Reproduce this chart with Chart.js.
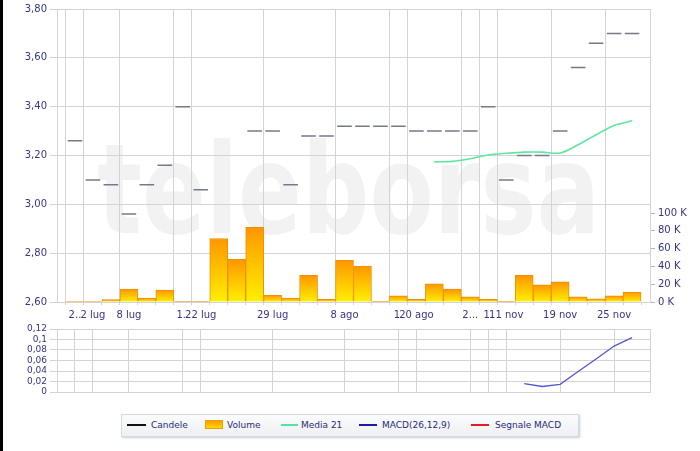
<!DOCTYPE html>
<html>
<head>
<meta charset="utf-8">
<script src="https://cdn.jsdelivr.net/npm/chart.js@4.4.1/dist/chart.umd.min.js"></script>
<style>
  body { margin: 0; background: #fff; width: 700px; height: 451px; position: relative; overflow: hidden; font-family: "DejaVu Sans", Verdana, sans-serif; }
  #edge { position: absolute; left: 0; top: 0; width: 3px; height: 451px; background: #000; }
  #main { position: absolute; left: 0; top: 0; }
  #macd { position: absolute; left: 0; top: 320px; }
  #legend { position: absolute; left: 121px; top: 414px; width: 456px; height: 21px; border: 1px solid #d6d9de;
            background: linear-gradient(#fafbfc, #eef0f3); box-shadow: 1px 1px 2px #c8ccd2; font-size: 9px; color: #2a2a7a; }
  #legend span { position: absolute; top: 5px; white-space: nowrap; }
  #legend i { position: absolute; display: block; }
</style>
</head>
<body>
<div id="edge"></div>
<canvas id="main" width="700" height="325"></canvas>
<canvas id="macd" width="700" height="85"></canvas>
<div id="legend">
  <i style="left:5px;top:9px;width:19px;height:2px;background:#111"></i><span style="left:29px">Candele</span>
  <i style="left:83px;top:5px;width:18px;height:9px;background:linear-gradient(#ff9a00,#ffd800);border:1px solid #f0a000;box-sizing:border-box"></i><span style="left:105px">Volume</span>
  <i style="left:159px;top:9px;width:17px;height:2px;background:#55e3a0"></i><span style="left:179px">Media 21</span>
  <i style="left:237px;top:9px;width:18px;height:2px;background:#1b1ba8"></i><span style="left:260px">MACD(26,12,9)</span>
  <i style="left:349px;top:9px;width:18px;height:2px;background:#e02020"></i><span style="left:373px">Segnale MACD</span>
</div>
<script>
// Etichette dell'asse x (una per seduta, vuota dove non c'è testo)
var CATEGORIES = ['2..', '2 lug', '', '8 lug', '', '', '1..', '22 lug', '', '', '', '29 lug', '', '', '', '8 ago',
                  '', '', '1.', '20 ago', '', '', '2...', '1.', '11 nov', '', '', '19 nov', '', '', '25 nov', ''];
// Prezzi (candele piatte)
var PRICE = [3.26, 3.10, 3.08, 2.96, 3.08, 3.16, 3.40, 3.06, null, null, 3.30, 3.30, 3.08, 3.28, 3.28, 3.32,
             3.32, 3.32, 3.32, 3.30, 3.30, 3.30, 3.30, 3.40, 3.10, 3.20, 3.20, 3.30, 3.56, 3.66, 3.70, 3.70];
// Volumi
var VOLUME = [500, 500, 2600, 14500, 4500, 13400, 700, 700, 71400, 48000, 84000, 7400, 4500, 30000, 2900, 46900,
              40500, 700, 7000, 2900, 20400, 14500, 5900, 2900, 700, 30000, 19300, 22700, 5900, 3700, 7000, 11200];
// Media mobile 21
var MEDIA21 = [null, null, null, null, null, null, null, null, null, null, null, null, null, null, null, null,
               null, null, null, null, 3.174, 3.176, 3.187, 3.202, 3.209, 3.214, 3.214, 3.210, 3.244, 3.285, 3.323, 3.342];
// MACD(26,12,9)
var MACD = [null, null, null, null, null, null, null, null, null, null, null, null, null, null, null, null,
            null, null, null, null, null, null, null, null, null, 0.016, 0.0105, 0.0147, 0.039, 0.063, 0.0875, 0.1035];
var PRICE_TICKS = [2.6, 3.8, 0.2];
var VOLUME_TICKS = [0, 20000, 40000, 60000, 80000, 100000];
var MACD_TICKS = [0, 0.12, 0.02];

var GRID = '#d4d4d4';
var TICK_COLOR = '#35358a';
var FONT = 'DejaVu Sans';

// un posto vuoto a ogni estremità, come nel grafico originale
function pad(arr) { return [null].concat(arr, [null]); }
var labels = [''].concat(CATEGORIES, ['']);

function gridColor(c) {
  return labels[c.index] ? GRID : 'rgba(0,0,0,0)';
}

var watermark = {
  id: 'watermark',
  beforeDraw: function(chart) {
    var ctx = chart.ctx;
    ctx.save();
    ctx.font = 'bold 125px "DejaVu Sans"';
    ctx.fillStyle = 'rgba(0,0,0,0.05)';
    ctx.textBaseline = 'alphabetic';
    var w = ctx.measureText('teleborsa').width;
    ctx.translate(97, 233);
    ctx.scale(503 / w, 1);
    ctx.fillText('teleborsa', 0, 0);
    ctx.restore();
  }
};

new Chart(document.getElementById('main'), {
  type: 'bar',
  data: {
    labels: labels,
    datasets: [
      {
        type: 'line',
        label: 'Candele',
        data: pad(PRICE),
        yAxisID: 'y',
        showLine: false,
        pointStyle: 'line',
        pointRadius: 7.3,
        pointHoverRadius: 7.3,
        pointBorderWidth: 1.5,
        pointBorderColor: '#767a88',
        borderColor: '#767a88',
        order: 1
      },
      {
        type: 'line',
        label: 'Media 21',
        data: pad(MEDIA21),
        yAxisID: 'y',
        borderColor: '#5ee6a2',
        borderWidth: 1.6,
        pointRadius: 0,
        tension: 0.3,
        fill: false,
        order: 2
      },
      {
        label: 'Volume',
        data: pad(VOLUME),
        yAxisID: 'yv',
        categoryPercentage: 1,
        barPercentage: 1,
        borderWidth: 1,
        borderColor: '#f09000',
        backgroundColor: function(c) {
          var chart = c.chart;
          var yv = chart.scales.yv;
          if (!chart.chartArea || !yv || c.raw == null) return '#ffb000';
          var top = yv.getPixelForValue(c.raw);
          var base = yv.getPixelForValue(0);
          if (!isFinite(top) || base - top < 1) return '#ff9a00';
          var g = chart.ctx.createLinearGradient(0, top, 0, base);
          g.addColorStop(0, '#ff9600');
          g.addColorStop(1, '#fff000');
          return g;
        },
        order: 3
      }
    ]
  },
  options: {
    responsive: false,
    animation: false,
    layout: { padding: { top: 7, left: 0, right: 0, bottom: 0 } },
    plugins: { legend: { display: false }, tooltip: { enabled: false } },
    scales: {
      x: {
        offset: false,
        grid: { color: gridColor, tickColor: GRID, tickLength: 3 },
        border: { color: GRID },
        ticks: { autoSkip: false, maxRotation: 0, minRotation: 0, padding: 4, color: TICK_COLOR, font: { family: FONT, size: 10 } },
        afterFit: function(s) { s.height = 23; }
      },
      y: {
        position: 'left',
        min: PRICE_TICKS[0],
        max: PRICE_TICKS[1],
        ticks: {
          stepSize: PRICE_TICKS[2],
          padding: 3,
          color: TICK_COLOR,
          font: { family: FONT, size: 10 },
          callback: function(v) { return v.toFixed(2).replace('.', ','); }
        },
        grid: { color: GRID, tickColor: GRID, tickLength: 7 },
        border: { color: GRID },
        afterFit: function(s) { s.width = 57; }
      },
      yv: {
        position: 'right',
        min: 0,
        max: 100000 * 295.3 / 89.6,
        afterBuildTicks: function(s) {
          s.ticks = VOLUME_TICKS.map(function(v) { return { value: v }; });
        },
        ticks: {
          autoSkip: false,
          padding: 3,
          color: TICK_COLOR,
          font: { family: FONT, size: 10 },
          callback: function(v) { return (v / 1000) + ' K'; }
        },
        grid: { drawOnChartArea: false, tickColor: '#b8b8b8', tickLength: 5 },
        border: { color: GRID },
        afterFit: function(s) { s.width = 50; }
      }
    }
  },
  plugins: [watermark]
});

new Chart(document.getElementById('macd'), {
  type: 'line',
  data: {
    labels: labels,
    datasets: [
      {
        label: 'MACD(26,12,9)',
        data: pad(MACD),
        borderColor: '#5555d6',
        borderWidth: 1.3,
        pointRadius: 0,
        tension: 0,
        fill: false
      }
    ]
  },
  options: {
    responsive: false,
    animation: false,
    layout: { padding: { top: 9, left: 0, right: 0, bottom: 0 } },
    plugins: { legend: { display: false }, tooltip: { enabled: false } },
    scales: {
      x: {
        offset: false,
        grid: { color: gridColor, drawTicks: false },
        border: { color: GRID },
        ticks: { display: false },
        afterFit: function(s) { s.height = 13; }
      },
      y: {
        min: MACD_TICKS[0],
        max: MACD_TICKS[1],
        ticks: {
          stepSize: MACD_TICKS[2],
          autoSkip: false,
          padding: 3,
          color: TICK_COLOR,
          font: { family: FONT, size: 9 },
          callback: function(v) { return String(+v.toFixed(2)).replace('.', ','); }
        },
        grid: { color: GRID, tickColor: GRID, tickLength: 7 },
        border: { color: GRID },
        afterFit: function(s) { s.width = 57; }
      },
      yr: {
        position: 'right',
        ticks: { display: false },
        grid: { drawOnChartArea: false, drawTicks: false },
        border: { color: GRID },
        afterFit: function(s) { s.width = 50; }
      }
    }
  }
});
</script>
</body>
</html>
